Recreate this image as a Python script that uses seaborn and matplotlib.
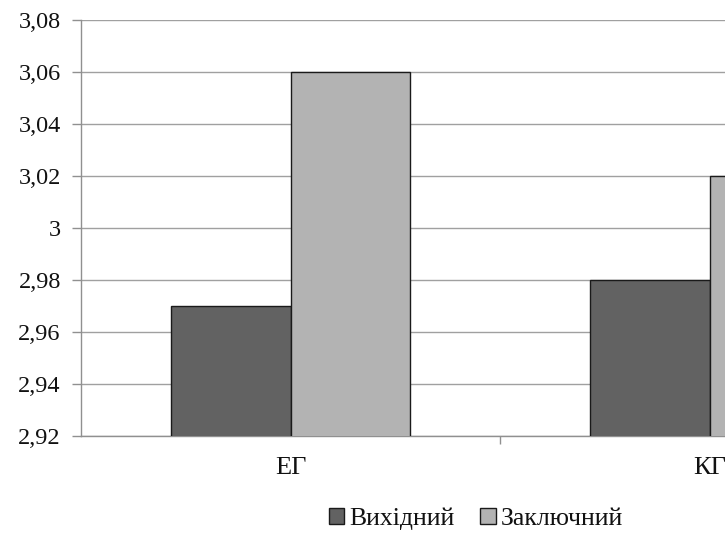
import matplotlib
matplotlib.use("Agg")
import matplotlib.pyplot as plt
import seaborn as sns
import pandas as pd
from matplotlib.ticker import FixedLocator, FuncFormatter
from matplotlib.patches import Patch

groups = ["ЕГ", "КГ"]
series_names = ["Вихідний", "Заключний"]
vals_initial = [2.97, 2.98]
vals_final = [3.06, 3.02]
yticks = [2.92, 2.94, 2.96, 2.98, 3.00, 3.02, 3.04, 3.06, 3.08]
colors = ["#626262", "#b3b3b3"]

df = pd.DataFrame({
    "group": groups * 2,
    "series": [series_names[0]] * 2 + [series_names[1]] * 2,
    "value": vals_initial + vals_final,
})

sns.set_theme(style="white")
plt.rcParams["font.family"] = ["Liberation Serif", "DejaVu Serif"]

fig = plt.figure(figsize=(7.25, 5.33), dpi=100)
ax = fig.add_axes([81 / 725, (533 - 436) / 533, 1 - 81 / 725, (436 - 20) / 533])

sns.barplot(data=df, x="group", y="value", hue="series", palette=colors,
            width=0.57, edgecolor="#1a1a1a", linewidth=1.0, ax=ax,
            legend=False, zorder=3)

ax.set_ylim(2.92, 3.08)
ax.set_xlim(-0.5, (725 - 81) / 419 - 0.5)
ax.yaxis.set_major_locator(FixedLocator(yticks))

def fmt(v, pos):
    s = f"{v:.2f}".rstrip("0").rstrip(".")
    return s.replace(".", ",")

ax.yaxis.set_major_formatter(FuncFormatter(fmt))
ax.grid(axis="y", color="#a0a0a0", linewidth=1.0, zorder=0)
ax.set_axisbelow(True)

for s in ["top", "right"]:
    ax.spines[s].set_visible(False)
for s in ["left", "bottom"]:
    ax.spines[s].set_color("#909090")
    ax.spines[s].set_linewidth(1.0)

ax.tick_params(axis="y", which="major", left=True, length=6.5, width=1.0,
               color="#909090", labelsize=17.5, pad=8, labelcolor="#111111")
ax.tick_params(axis="x", which="major", bottom=False, labelsize=19, pad=9,
               labelcolor="#111111")
ax.xaxis.set_minor_locator(FixedLocator([0.5]))
ax.tick_params(axis="x", which="minor", bottom=True, length=6, width=1.0,
               color="#909090")
ax.set_xlabel("")
ax.set_ylabel("")

handles = [Patch(facecolor=c, edgecolor="#1a1a1a", linewidth=1.0) for c in colors]
fig.legend(handles, series_names, loc="center", bbox_to_anchor=(476 / 725, 1 - 519 / 533),
           ncol=2, frameon=False, fontsize=18.5, handlelength=0.6, handleheight=0.6,
           handletextpad=0.2, columnspacing=1.0, labelcolor="#111111")

fig.savefig("out.png", dpi=100)
